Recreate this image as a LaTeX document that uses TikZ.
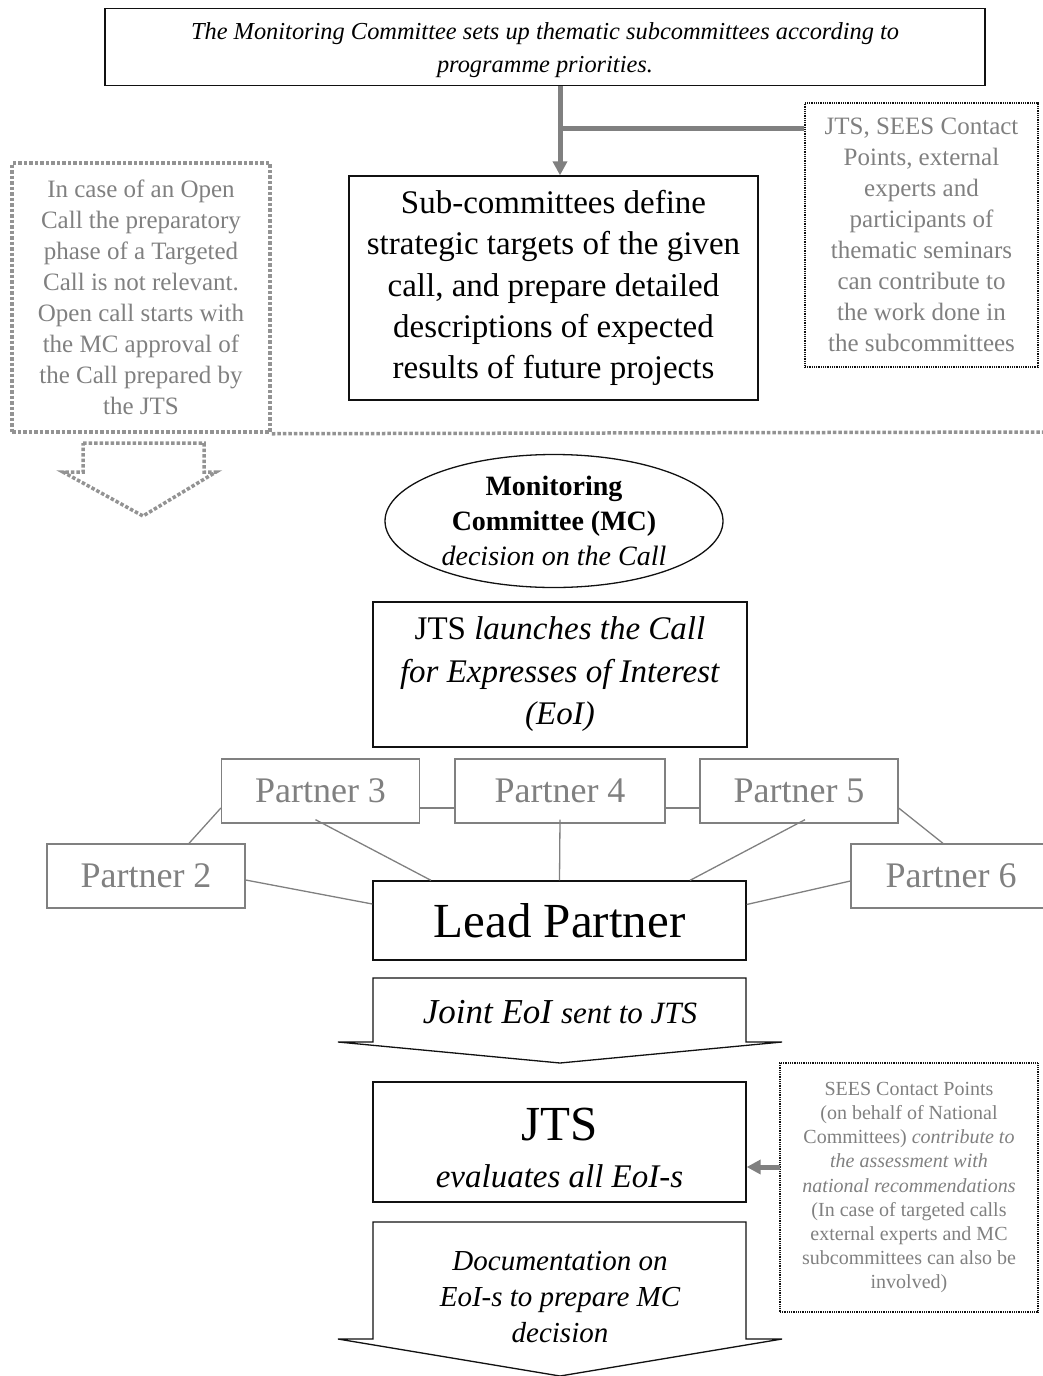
\documentclass[tikz,border=0pt]{standalone}
\usepackage{fontspec}
\setmainfont{Liberation Serif}
\usetikzlibrary{arrows.meta,shapes.geometric,calc}
\definecolor{ash}{HTML}{808080}
\definecolor{ink}{HTML}{111111}

\begin{document}
\begin{tikzpicture}[x=1pt,y=-1pt,
  blackbox/.style={draw=ink,line width=1.3pt,inner sep=0pt,align=center,text=black},
  notebox/.style={inner sep=0pt,align=center,text=ash},
  partnerbox/.style={draw=ash,line width=1.3pt,inner sep=0pt,text=ash,
    minimum width=198pt,minimum height=64pt,font=\fontsize{36}{40}\selectfont},
  graydots/.style={draw=ash!85,line width=3.5pt,dash pattern=on 3.5pt off 2pt},
  blackdots/.style={draw=ink,line width=1.8pt,dash pattern=on 0.9pt off 0.9pt},
  link/.style={draw=ash,line width=1.3pt},
  feedarrow/.style={draw=ash,line width=5pt,-{Triangle[length=14pt,width=14pt]}},
  blockarrow/.style={draw=ink,line width=1.3pt,line join=miter},
]
\useasboundingbox (0,0) rectangle (1043,1376);

% ---------- preparatory phase ----------
\node[blackbox,minimum width=880pt,minimum height=77pt] (top) at (545,47) {};
\node[inner sep=0pt,align=center,font=\itshape\fontsize{24.4}{33}\selectfont] (toptext) at (545,50)
  {The Monitoring Committee sets up thematic subcommittees according to\\programme priorities.};

\node[blackbox,minimum width=409pt,minimum height=224pt,
  font=\fontsize{33}{41.3}\selectfont] (sub) at (553.5,288)
  {Sub-committees define\\strategic targets of the given\\call, and prepare detailed\\descriptions of expected\\results of future projects};

\node[notebox,blackdots,minimum width=233pt,minimum height=264pt,
  font=\fontsize{25}{31}\selectfont] (rtop) at (921.5,235)
  {JTS, SEES Contact\\Points, external\\experts and\\participants of\\thematic seminars\\can contribute to\\the work done in\\the subcommittees};

\coordinate (drop) at (560,128);
\draw[feedarrow] (top.south -| drop) -- (sub.north -| drop);
\draw[draw=ash,line width=5pt] (drop) -- (drop -| rtop.west);

% open call note and separator
\node[notebox,graydots,minimum width=258pt,minimum height=269pt,
  font=\fontsize{25}{31}\selectfont] (open) at (141,297.5)
  {In case of an Open\\Call the preparatory\\phase of a Targeted\\Call is not relevant.\\Open call starts with\\the MC approval of\\the Call prepared by\\the JTS};
\coordinate (sepend) at (1043,432);
\draw[graydots] (open.south east) -- (sepend);

% dotted block arrow below the note
\draw[graydots,line join=miter]
  (83,443) -- (204,443) -- (204,472) -- (216,472) -- (143,516)
  -- (63,472) -- (83,472) -- cycle;

% ---------- call ----------
\node[draw=ink,line width=1.3pt,ellipse,inner sep=0pt,minimum width=338pt,
  minimum height=133pt,align=center,font=\fontsize{28}{35}\selectfont] (mc) at (554,521)
  {\textbf{Monitoring}\\\textbf{Committee (MC)}\\\textit{decision on the Call}};

\node[blackbox,minimum width=374pt,minimum height=145pt,
  font=\fontsize{33}{42.5}\selectfont] (launch) at (560,674.5)
  {JTS \textit{launches the Call}\\\textit{for Expresses of Interest}\\\textit{(EoI)}};

% ---------- partnership ----------
\node[partnerbox] (p3) at (320.5,791) {Partner 3};
\node[partnerbox,minimum width=210pt] (p4) at (560,791) {Partner 4};
\node[partnerbox] (p5) at (799,791) {Partner 5};
\node[partnerbox] (p2) at (146,876) {Partner 2};
\node[partnerbox,minimum width=200pt] (p6) at (951,876) {Partner 6};

\node[blackbox,minimum width=373pt,minimum height=79pt,
  font=\fontsize{49}{50}\selectfont] (lead) at (559.5,920.5) {Lead Partner};

\draw[link] ([yshift=-17pt]p3.west) -- ([xshift=43pt]p2.north);
\draw[link] ([yshift=-17pt]p3.east) -- ([yshift=-17pt]p4.west);
\draw[link] ([yshift=-17pt]p4.east) -- ([yshift=-17pt]p5.west);
\draw[link] ([yshift=-17pt]p5.east) -- ([xshift=-8pt]p6.north);
\draw[link] ([xshift=-5pt,yshift=4pt]p3.south) -- ([xshift=-128.5pt]lead.north);
\draw[link] ([yshift=4pt]p4.south) -- (lead.north);
\draw[link] ([xshift=6pt,yshift=4pt]p5.south) -- ([xshift=130.5pt]lead.north);
\draw[link] ([yshift=-4pt]p2.east) -- ([yshift=16.5pt]lead.west);
\draw[link] ([yshift=-5pt]p6.west) -- ([yshift=16pt]lead.east);

% ---------- submission and evaluation ----------
\draw[blockarrow] (373,978) -- (746,978) -- (746,1042) -- (782,1042) -- (560,1063)
  -- (338,1042) -- (373,1042) -- cycle;
\node[inner sep=0pt,font=\itshape] (joint) at (560,1012)
  {{\fontsize{35}{40}\selectfont Joint EoI}\hspace{9pt}{\fontsize{31}{40}\selectfont sent to JTS}};

\node[blackbox,minimum width=373pt,minimum height=120pt] (jts) at (559.5,1142) {};
\node[inner sep=0pt,align=center,font=\fontsize{33}{47}\selectfont] (jtstext) at (559.5,1148)
  {{\fontsize{49}{47}\selectfont JTS}\\\textit{evaluates all EoI-s}};

\node[notebox,blackdots,minimum width=258pt,minimum height=249pt,
  font=\fontsize{20}{24.1}\selectfont] (rbot) at (909,1187.5)
  {SEES Contact Points\\(on behalf of National\\Committees) \textit{contribute to}\\\textit{the assessment with}\\\textit{national recommendations}\\(In case of targeted calls\\external experts and MC\\subcommittees can also be\\involved)};

\coordinate (feed) at (780,1167);
\draw[feedarrow] (feed) -- (feed -| jts.east);

\draw[blockarrow] (373,1222) -- (746,1222) -- (746,1339) -- (782,1339) -- (560,1376)
  -- (338,1339) -- (373,1339) -- cycle;
\node[inner sep=0pt,align=center,font=\itshape\fontsize{29}{36}\selectfont] (doc) at (560,1297)
  {Documentation on\\EoI-s to prepare MC\\decision};

\end{tikzpicture}
\end{document}
